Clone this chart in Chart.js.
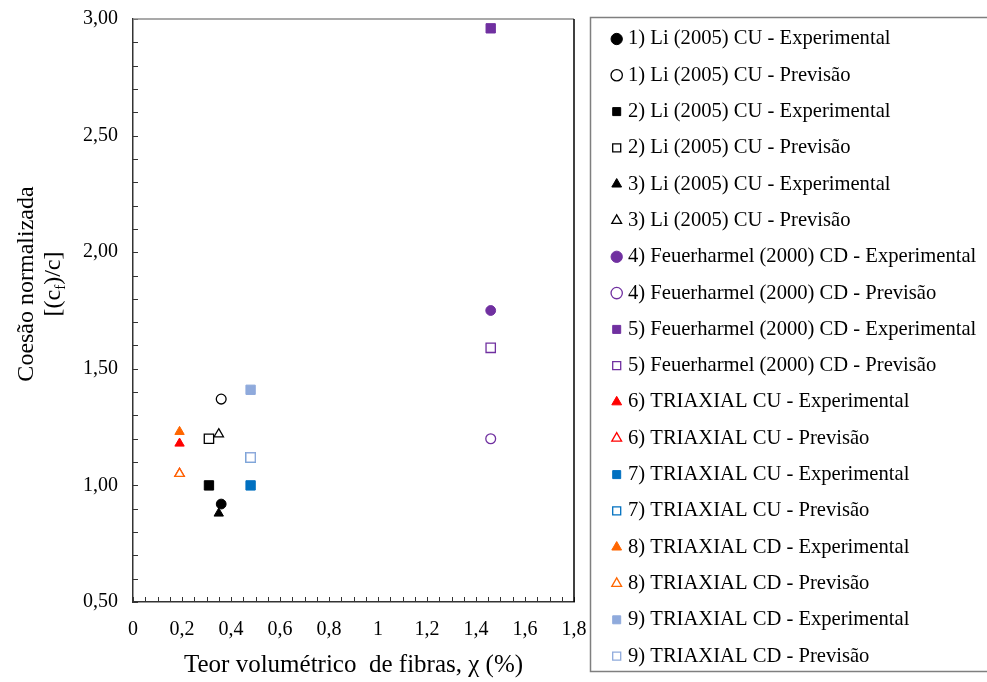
<!DOCTYPE html>
<html>
<head>
<meta charset="utf-8">
<script src="https://cdn.jsdelivr.net/npm/chart.js@4.4.0/dist/chart.umd.min.js"></script>
<style>
  html, body { margin: 0; padding: 0; background: #fff; }
  #wrap { width: 987px; height: 682px; }
</style>
</head>
<body>
<div id="wrap"><canvas id="coesao"></canvas></div>
<script>
// series (one point each)
var seriesNames = [
  '1) Li (2005) CU - Experimental',
  '1) Li (2005) CU - Previsão',
  '2) Li (2005) CU - Experimental',
  '2) Li (2005) CU - Previsão',
  '3) Li (2005) CU - Experimental',
  '3) Li (2005) CU - Previsão',
  '4) Feuerharmel (2000) CD - Experimental',
  '4) Feuerharmel (2000) CD - Previsão',
  '5) Feuerharmel (2000) CD - Experimental',
  '5) Feuerharmel (2000) CD - Previsão',
  '6) TRIAXIAL CU - Experimental',
  '6) TRIAXIAL CU - Previsão',
  '7) TRIAXIAL CU - Experimental',
  '7) TRIAXIAL CU - Previsão',
  '8) TRIAXIAL CD - Experimental',
  '8) TRIAXIAL CD - Previsão',
  '9) TRIAXIAL CD - Experimental',
  '9) TRIAXIAL CD - Previsão'
];
var seriesX = [0.36, 0.36, 0.31, 0.31, 0.35, 0.35, 1.46, 1.46, 1.46, 1.46,
               0.19, 0.19, 0.48, 0.48, 0.19, 0.19, 0.48, 0.48];
var seriesY = [0.92, 1.37, 1.00, 1.20, 0.88, 1.22, 1.75, 1.20, 2.96, 1.59,
               1.18, 1.05, 1.00, 1.12, 1.23, 1.05, 1.41, 1.12];

var xLabelValues = [0, 0.2, 0.4, 0.6, 0.8, 1, 1.2, 1.4, 1.6, 1.8];
var yLabelValues = [0.5, 1.0, 1.5, 2.0, 2.5, 3.0];

// marker look
var seriesColors = ['#000000', '#000000', '#000000', '#000000', '#000000', '#000000',
                    '#7030A0', '#7030A0', '#7030A0', '#7030A0',
                    '#FF0000', '#FF0000', '#0070C0', '#0070C0',
                    '#FF6600', '#FF6600', '#8FAADC', '#8FAADC'];
var seriesShapes = ['circle', 'circle', 'rect', 'rect', 'triangle', 'triangle',
                    'circle', 'circle', 'rect', 'rect', 'triangle', 'triangle',
                    'rect', 'rect', 'triangle', 'triangle', 'rect', 'rect'];
var shapeRadius = { circle: 4.9, rect: 6.6, triangle: 5.4 };
var axisColor = '#333333';
var serif = 'Liberation Serif';

function isOneOf(v, list) {
  for (var i = 0; i < list.length; i++) {
    if (Math.abs(v - list[i]) < 1e-6) return true;
  }
  return false;
}

var datasets = [];
for (var i = 0; i < seriesNames.length; i++) {
  var filled = (i % 2 === 0);
  datasets.push({
    label: seriesNames[i],
    data: [{ x: seriesX[i], y: seriesY[i] }],
    pointStyle: seriesShapes[i],
    pointRadius: shapeRadius[seriesShapes[i]],
    pointHoverRadius: shapeRadius[seriesShapes[i]],
    backgroundColor: filled ? seriesColors[i] : '#ffffff',
    borderColor: seriesColors[i],
    borderWidth: filled ? 1 : 1.3,
    showLine: false
  });
}
// later series sit on top, like the original
datasets.reverse();

var framePlugin = {
  id: 'frame',
  afterUpdate: function(chart) {
    var lg = chart.legend;
    if (!lg) return;
    lg.left = 600;
    lg.right = chart.width + 20;
    var h = lg.height;
    lg.top = 13;
    lg.bottom = lg.top + h;
  },
  beforeDatasetsDraw: function(chart) {
    var ctx = chart.ctx, a = chart.chartArea;
    var xs = chart.scales.x, ys = chart.scales.y;
    ctx.save();
    ctx.strokeStyle = axisColor;
    ctx.lineWidth = 1;
    ctx.beginPath();
    xs.ticks.forEach(function(t) {
      var px = Math.round(xs.getPixelForValue(t.value)) + 0.5;
      ctx.moveTo(px, a.bottom);
      ctx.lineTo(px, a.bottom - 5);
    });
    ys.ticks.forEach(function(t) {
      var py = Math.round(ys.getPixelForValue(t.value)) + 0.5;
      ctx.moveTo(a.left, py);
      ctx.lineTo(a.left + 5, py);
    });
    ctx.stroke();
    // top and right edges of the plot box
    ctx.lineWidth = 1.5;
    ctx.strokeStyle = '#8c8c8c';
    ctx.beginPath();
    ctx.moveTo(a.left, a.top);
    ctx.lineTo(a.right, a.top);
    ctx.stroke();
    ctx.strokeStyle = '#000000';
    ctx.beginPath();
    ctx.moveTo(a.right, a.top);
    ctx.lineTo(a.right, a.bottom);
    ctx.stroke();
    ctx.restore();
  },
  afterDraw: function(chart) {
    var ctx = chart.ctx;
    ctx.save();
    // legend frame
    ctx.strokeStyle = '#7f7f7f';
    ctx.lineWidth = 1.5;
    ctx.strokeRect(590.5, 17.5, 420, 654);

    // y axis title, two lines, with subscript f
    ctx.fillStyle = '#000';
    ctx.translate(33, 284);
    ctx.rotate(-Math.PI / 2);
    ctx.textAlign = 'center';
    ctx.textBaseline = 'alphabetic';
    ctx.font = '24px "' + serif + '"';
    ctx.fillText('Coesão normalizada', 0, 0);

    var partA = '[(c', partB = 'f', partC = ')/c]';
    var wA = ctx.measureText(partA).width;
    var wC = ctx.measureText(partC).width;
    ctx.font = '15px "' + serif + '"';
    var wB = ctx.measureText(partB).width;
    var x0 = -(wA + wB + wC) / 2;
    ctx.textAlign = 'left';
    ctx.font = '24px "' + serif + '"';
    ctx.fillText(partA, x0, 27);
    ctx.font = '15px "' + serif + '"';
    ctx.fillText(partB, x0 + wA, 32);
    ctx.font = '24px "' + serif + '"';
    ctx.fillText(partC, x0 + wA + wB, 27);
    ctx.restore();
  }
};

Chart.defaults.font.family = serif;
Chart.defaults.color = '#000';

var ctx = document.getElementById('coesao').getContext('2d');
new Chart(ctx, {
  type: 'scatter',
  data: { datasets: datasets },
  options: {
    responsive: true,
    maintainAspectRatio: false,
    animation: false,
    devicePixelRatio: 1,
    layout: { padding: 0 },
    scales: {
      x: {
        type: 'linear',
        min: 0,
        max: 1.8,
        grid: { display: false, drawTicks: false, tickLength: 0 },
        border: { display: true, color: axisColor, width: 1.5 },
        ticks: {
          stepSize: 0.05,
          autoSkip: false,
          maxRotation: 0,
          minRotation: 0,
          padding: 16,
          font: { family: serif, size: 20 },
          color: '#000',
          callback: function(v) {
            if (!isOneOf(v, xLabelValues)) return '';
            var r = Math.round(v * 10) / 10;
            return String(r).replace('.', ',');
          }
        },
        title: {
          display: true,
          text: 'Teor volumétrico  de fibras, χ (%)',
          font: { family: serif, size: 25 },
          color: '#000',
          padding: { top: 0, bottom: 2 }
        },
        afterFit: function(s) {
          s.height = 80;
          s.paddingRight = 413;
        }
      },
      y: {
        type: 'linear',
        min: 0.5,
        max: 3,
        grid: { display: false, drawTicks: false, tickLength: 0 },
        border: { display: true, color: axisColor, width: 1.5 },
        ticks: {
          stepSize: 0.1,
          autoSkip: false,
          padding: 15,
          font: { family: serif, size: 20 },
          color: '#000',
          callback: function(v) {
            if (!isOneOf(v, yLabelValues)) return '';
            return v.toFixed(2).replace('.', ',');
          }
        },
        afterFit: function(s) {
          s.width = 133;
          s.paddingTop = 19;
        }
      }
    },
    plugins: {
      legend: {
        display: true,
        position: 'right',
        align: 'start',
        reverse: true,
        maxWidth: 420,
        labels: {
          usePointStyle: true,
          boxWidth: 2,
          boxHeight: 8,
          padding: 15.7,
          color: '#000',
          font: { family: serif, size: 20.6 }
        }
      },
      tooltip: { enabled: false }
    }
  },
  plugins: [framePlugin]
});
</script>
</body>
</html>
